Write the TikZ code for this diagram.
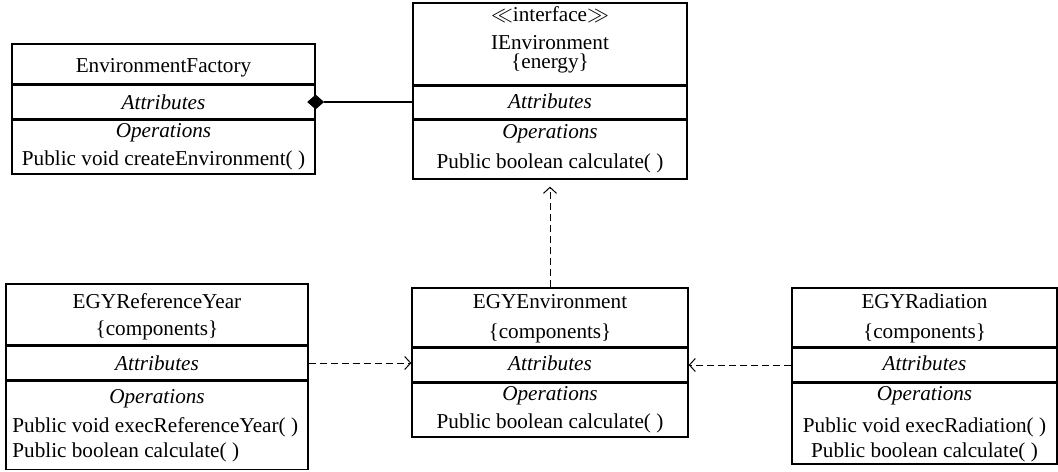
\documentclass[tikz,border=0pt]{standalone}
\usepackage{fontspec}
\setmainfont{Liberation Serif}
\usetikzlibrary{positioning,fit,arrows.meta,shapes.geometric}
\tikzset{
  compartment/.style={
    draw,
    rectangle,
    inner sep=0pt,
    line width=0.65pt
  },
  separator/.style={
    line width=1pt
  },
  classtext/.style={
    anchor=base,
    inner sep=0pt,
    font=\fontsize{10.6}{12}\selectfont
  },
  sectiontext/.style={
    classtext,
    font=\fontsize{10.6}{12}\selectfont\itshape
  },
  composition/.style={
    diamond,
    fill,
    draw,
    inner sep=0pt,
    minimum width=8pt,
    minimum height=7pt
  },
  assoc/.style={
    line width=0.6pt
  },
  dependency/.style={
    dash pattern=on 3.5pt off 2pt,
    line width=0.5pt,
    -{Straight Barb[length=3pt,width=6.5pt]}
  }
}

\begin{document}
\begin{tikzpicture}[x=0.5pt, y=-0.5pt]
  \useasboundingbox (0,0) rectangle (1058,471);

  % EnvironmentFactory
  \node[compartment, fit={(12,44) (315,85)}] (fachead) {};
  \node[compartment, fit={(12,85) (315,119)}] (facattr) {};
  \node[compartment, fit={(12,119) (315,174)}] (facops) {};
  \node[classtext] (facname) at (163.5,72) {EnvironmentFactory};
  \node[sectiontext] (facattrtxt) at (163.5,109) {Attributes};
  \node[sectiontext] (facopstxt) at (163.5,137) {Operations};
  \node[classtext] (facop1) at (163.5,165) {Public void createEnvironment( )};

  % IEnvironment
  \node[compartment, fit={(413,3) (687,86)}] (ienvhead) {};
  \node[compartment, fit={(413,86) (687,119)}] (ienvattr) {};
  \node[compartment, fit={(413,119) (687,179)}] (ienvops) {};
  \node[classtext] (ienvstereo) at (550,21) {$\ll$interface$\gg$};
  \node[classtext] (ienvname) at (550,49) {IEnvironment};
  \node[classtext] (ienvtag) at (550,68) {\{energy\}};
  \node[sectiontext] (ienvattrtxt) at (550,108) {Attributes};
  \node[sectiontext] (ienvopstxt) at (550,138) {Operations};
  \node[classtext] (ienvop1) at (550,168) {Public boolean calculate( )};

  % EGYReferenceYear
  \node[compartment, fit={(6,284) (308,346)}] (ryhead) {};
  \node[compartment, fit={(6,346) (308,380)}] (ryattr) {};
  \node[compartment, fit={(6,380) (308,469.5)}] (ryops) {};
  \node[classtext] (ryname) at (157,308) {EGYReferenceYear};
  \node[classtext] (rytag) at (157,335) {\{components\}};
  \node[sectiontext] (ryattrtxt) at (157,370) {Attributes};
  \node[sectiontext] (ryopstxt) at (157,403) {Operations};
  \node[classtext, anchor=base west] (ryop1) at (12,432) {Public void execReferenceYear( )};
  \node[classtext, anchor=base west] (ryop2) at (12,457) {Public boolean calculate( )};

  % EGYEnvironment
  \node[compartment, fit={(412,288) (688,348)}] (envhead) {};
  \node[compartment, fit={(412,348) (688,382)}] (envattr) {};
  \node[compartment, fit={(412,382) (688,437)}] (envops) {};
  \node[classtext] (envname) at (550,308) {EGYEnvironment};
  \node[classtext] (envtag) at (550,338) {\{components\}};
  \node[sectiontext] (envattrtxt) at (550,370) {Attributes};
  \node[sectiontext] (envopstxt) at (550,400) {Operations};
  \node[classtext] (envop1) at (550,428) {Public boolean calculate( )};

  % EGYRadiation
  \node[compartment, fit={(792,288) (1057,348)}] (radhead) {};
  \node[compartment, fit={(792,348) (1057,382)}] (radattr) {};
  \node[compartment, fit={(792,382) (1057,464)}] (radops) {};
  \node[classtext] (radname) at (924.5,308) {EGYRadiation};
  \node[classtext] (radtag) at (924.5,338) {\{components\}};
  \node[sectiontext] (radattrtxt) at (924.5,370) {Attributes};
  \node[sectiontext] (radopstxt) at (924.5,400) {Operations};
  \node[classtext] (radop1) at (924.5,432) {Public void execRadiation( )};
  \node[classtext] (radop2) at (924.5,457) {Public boolean calculate( )};

  % Heavier compartment rules
  \foreach \part in {facattr,ienvattr,ryattr,envattr,radattr}
    \draw[separator] (\part.north west) -- (\part.north east)
                     (\part.south west) -- (\part.south east);

  % Composition
  \node[composition] (facdia) at (facattr.east) {};
  \draw[assoc] (facdia.east) -- (ienvattr.west |- facdia.east);

  % Dependencies
  \draw[dependency, shorten >=3.5pt] (envhead.north) -- (envhead.north |- ienvops.south);
  \draw[dependency] (ryattr.east) -- (envattr.west |- ryattr.east);
  \draw[dependency] (radattr.west) -- (envattr.east |- radattr.west);

\end{tikzpicture}
\end{document}
